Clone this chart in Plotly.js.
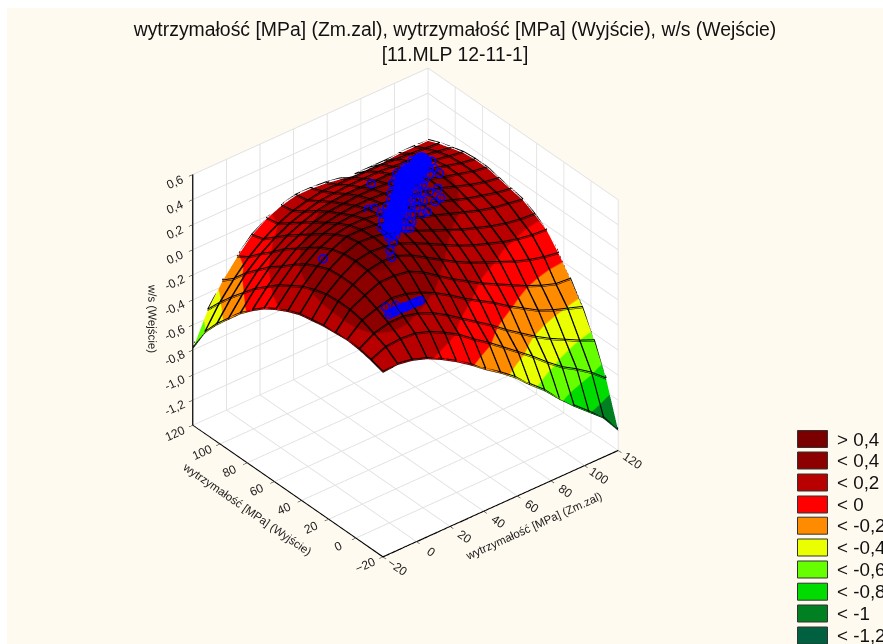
<!DOCTYPE html>
<html><head><meta charset="utf-8">
<script src="https://cdn.plot.ly/plotly-3.0.1.min.js"></script>
<style>html,body{margin:0;padding:0;background:#fff;overflow:hidden}#c{width:883px;height:644px}</style>
</head><body><div id="c"></div>
<script>
const gridX=[-20,-11.25,-2.5,6.25,15,23.75,32.5,41.25,50,58.75,67.5,76.25,85,93.75,102.5,111.25,120];
const gridY=[-20,-11.25,-2.5,6.25,15,23.75,32.5,41.25,50,58.75,67.5,76.25,85,93.75,102.5,111.25,120];
const surfaceZ=[
[.07,.08,.06,.02,-.04,-.11,-.19,-.28,-.36,-.45,-.56,-.66,-.78,-.89,-.99,-1.09,-1.24],
[.10,.15,.16,.15,.11,.05,-.02,-.11,-.19,-.28,-.37,-.46,-.56,-.65,-.72,-.80,-.90],
[.12,.19,.22,.22,.19,.14,.07,-.01,-.09,-.17,-.26,-.34,-.42,-.49,-.55,-.61,-.66],
[.13,.23,.27,.30,.28,.24,.18,.11,.03,-.04,-.11,-.19,-.26,-.33,-.38,-.42,-.46],
[.12,.25,.31,.36,.36,.34,.28,.20,.12,.05,-.02,-.08,-.14,-.20,-.25,-.29,-.30],
[.11,.25,.33,.39,.41,.40,.35,.28,.21,.14,.08,.03,-.02,-.07,-.11,-.14,-.16],
[.09,.24,.33,.40,.42,.41,.38,.33,.27,.21,.15,.10,.06,.02,-.01,-.03,-.04],
[.07,.21,.32,.39,.43,.42,.40,.36,.31,.26,.21,.16,.12,.08,.05,.03,.02],
[.03,.17,.28,.36,.41,.41,.40,.37,.34,.30,.26,.22,.18,.14,.11,.09,.07],
[-.02,.11,.23,.31,.36,.38,.38,.36,.34,.31,.28,.25,.21,.17,.14,.11,.09],
[-.08,.05,.16,.24,.30,.33,.34,.34,.33,.31,.29,.27,.24,.20,.16,.13,.11],
[-.16,-.03,.08,.17,.23,.27,.29,.30,.30,.29,.28,.27,.25,.21,.18,.15,.13],
[-.25,-.11,.01,.10,.16,.21,.24,.25,.26,.26,.25,.25,.23,.21,.18,.15,.13],
[-.36,-.21,-.08,.01,.09,.14,.18,.20,.21,.21,.21,.21,.20,.18,.16,.14,.12],
[-.47,-.31,-.17,-.07,.01,.07,.11,.14,.15,.16,.16,.16,.15,.14,.13,.11,.09],
[-.60,-.42,-.28,-.16,-.07,.00,.05,.08,.10,.10,.10,.10,.10,.09,.08,.07,.06],
[-.79,-.54,-.36,-.22,-.10,-.02,.03,.06,.06,.05,.03,.01,.01,.01,.02,.02,.02]];
const pointsX=[19,22,27,28,32,
30,33.5,37,40,32,35,38.5,
34,37.5,41,44,36,39.5,43,
37.4,40.9,44.3,47.8,39,42.6,46,
43,46,49.5,53,44.7,48,51,
48,51.7,55.2,58,50,53.5,57,
52,56,59.5,63,54,58,61,
57,60.6,64,67.5,59,62.4,66,
65,68,71.5,75,66.7,70,73,
69.7,73,76.6,81,71.4,75,78.4,
77,80,83.5,87,78.7,82,85,
83.7,87,90.6,85.4,88.8,
40.5,43.5,57,0,
70,74,62,59,87,73,78,66,
0,1,2,2,3,4,4,5,6,6,7,8,9,9,10,11,12,13,14,15,16,17,18,18.6,0,4.5];
const pointsY=[22,27,31,35,35,
43,40,37,34.5,41,38,35.5,
47,44,41,38,45,42,39,
52.4,49.3,46.2,43,50.8,47.7,44.6,
55,52,49,46,53.4,50.4,47.4,
58.5,55.4,52.3,49.9,57,53.9,51,
63,60,57,54,61.4,58.4,55.4,
68.3,65.2,62,59,66.7,63.6,60.5,
76,73,70,67,74.4,71.4,68.4,
80.9,77.8,74.7,70.7,79.3,76,72.7,
84,81,78,75,82.4,79.4,76.4,
87.2,84,81,85.6,82.4,
66,65,84,49,
53,54,49,49,71,61,61,57,
.5,1,.5,1,.5,1,.5,1,.5,1,.5,1,.5,1,.5,.5,.5,.5,.5,.5,.5,.5,.2,.2,3,1];
const pointsZ=[.44,.44,.44,.44,.44,
.45,.45,.45,.45,.45,.45,.45,
.45,.45,.45,.45,.45,.45,.45,
.45,.45,.45,.45,.45,.45,.45,
.45,.45,.45,.45,.45,.45,.45,
.45,.45,.45,.45,.45,.45,.45,
.45,.45,.45,.45,.45,.45,.45,
.45,.45,.45,.45,.45,.45,.45,
.38,.38,.38,.38,.38,.38,.38,
.36,.36,.36,.36,.36,.36,.36,
.34,.34,.34,.34,.34,.34,.34,
.33,.33,.33,.33,.33,
.36,.36,.33,.34,
.34,.34,.34,.34,.33,.34,.34,.34,
.26,.26,.26,.26,.26,.26,.26,.26,.26,.26,.26,.26,.26,.26,.26,.26,.26,.26,.26,.26,.26,.26,.26,.26,.30,.30];
const coreX=[32,36,40,44,48,52,56,60,62,66,68,72,74,77,79,82,84,86];
const coreY=[39,42,47,50,53,57,60,64,66,70,73,74,77,77,78,80,82,83];
const coreZ=[.455,.455,.455,.455,.455,.455,.455,.455,.455,.39,.39,.37,.37,.35,.35,.34,.34,.34];
const zTickVals=[-1.2,-1,-.8,-.6,-.4,-.2,0,.2,.4,.6];
const zTickText=['-1,2','-1,0','-0,8','-0,6','-0,4','-0,2','0,0','0,2','0,4','0,6'];
const xyTicks=[-20,0,20,40,60,80,100,120];
const legendLabels=['> 0,4','< 0,4','< 0,2','< 0','< -0,2','< -0,4','< -0,6','< -0,8','< -1','< -1,2'];
const legendColors=['#7a0000','#8c0000','#b80000','#ff0000','#ff8c00','#eaff00','#66ff00','#00dc00','#008020','#006040'];
const legendRowsPx=[439,460.5,482.5,504.5,525.7,547.5,569.5,591.7,613.5,635.5];
const bandEdges=[.6,.4,.2,0,-.2,-.4,-.6,-.8,-1,-1.2,-1.4];

const cs=[];
const zMin=-1.4,zMax=.6;
for(let k=legendColors.length-1;k>=0;k--){
  const c=legendColors[k];
  cs.push([(bandEdges[k+1]-zMin)/(zMax-zMin),c]);
  cs.push([(bandEdges[k]-zMin)/(zMax-zMin),c]);
}
cs[0][0]=0;cs[cs.length-1][0]=1;

const axisCommon={showbackground:true,backgroundcolor:'#ffffff',gridcolor:'#e0e0e0',gridwidth:2,
  zeroline:false,showline:true,linecolor:'#000',linewidth:2,ticks:'outside',ticklen:5,tickcolor:'#000',
  tickfont:{family:'Liberation Sans, Arial',size:12,color:'#222'},showspikes:false};
const titleFont={family:'Liberation Sans, Arial',size:11.5,color:'#222'};
const W=883,H=644;
const shapes=[{type:'rect',layer:'below',xref:'paper',yref:'paper',x0:7/W,x1:1,y0:0,y1:1-8/H,fillcolor:'#fffaf0',line:{width:0}}].concat(
 legendRowsPx.map((py,k)=>({type:'rect',xref:'paper',yref:'paper',
  x0:797.5/W,x1:827.5/W,y0:1-(py+8.5)/H,y1:1-(py-8.5)/H,fillcolor:legendColors[k],line:{color:'#333',width:1}})));
const annotations=legendRowsPx.map((py,k)=>({xref:'paper',yref:'paper',x:835/W,y:1-py/H,xanchor:'left',yanchor:'middle',
  text:legendLabels[k],showarrow:false,font:{family:'Liberation Sans, Arial',size:18.8,color:'#111'},align:'left'}));

const lift=.012, mx=[],my=[],mz=[];
gridY.forEach((yv,j)=>{gridX.forEach((xv,i)=>{mx.push(xv);my.push(yv);mz.push(surfaceZ[j][i]+lift);});mx.push(null);my.push(null);mz.push(null);});
gridX.forEach((xv,i)=>{gridY.forEach((yv,j)=>{mx.push(xv);my.push(yv);mz.push(surfaceZ[j][i]+lift);});mx.push(null);my.push(null);mz.push(null);});

const xRange=[-20,120],yRange=[-20,120],zRange=[-1.4,.6];
const axisLine=(x,y,z)=>({type:'scatter3d',mode:'lines',x,y,z,line:{color:'#000',width:2.5},hoverinfo:'skip'});

const data=[{type:'surface',x:gridX,y:gridY,z:surfaceZ,cmin:zMin,cmax:zMax,colorscale:cs,showscale:false,
  lighting:{ambient:1,diffuse:0,specular:0,fresnel:0,roughness:1},
  contours:{x:{show:true,start:-20,end:120,size:8.75,color:'#000',width:2,highlight:false},
            y:{show:true,start:-20,end:120,size:8.75,color:'#000',width:2,highlight:false},
            z:{show:false,highlight:false}},hoverinfo:'skip'},
 {type:'scatter3d',mode:'lines',x:mx,y:my,z:mz,connectgaps:false,line:{color:'#000',width:2},hoverinfo:'skip'},
 axisLine(xRange,[yRange[0],yRange[0]],[zRange[0],zRange[0]]),
 axisLine([xRange[0],xRange[0]],yRange,[zRange[0],zRange[0]]),
 axisLine([xRange[0],xRange[0]],[yRange[1],yRange[1]],zRange),
 {type:'scatter3d',mode:'markers',x:coreX,y:coreY,z:coreZ,marker:{symbol:'circle',size:11,color:'#0000ff',line:{width:0}},hoverinfo:'skip'},
 {type:'scatter3d',mode:'markers',x:pointsX,y:pointsY,z:pointsZ,
  error_z:{type:'constant',value:.03,color:'#0000ff',thickness:1,width:0},
  marker:{symbol:'circle-open',size:5,color:'#0000ff',line:{color:'#0000ff',width:2}},hoverinfo:'skip'}];
const layout={width:W,height:H,paper_bgcolor:'#ffffff',margin:{l:0,r:0,t:0,b:0},showlegend:false,
  title:{text:'wytrzymałość [MPa] (Zm.zal), wytrzymałość [MPa] (Wyjście), w/s (Wejście)<br>[11.MLP 12-11-1]',
    font:{family:'Liberation Sans, Arial',size:19.4,color:'#111'},x:455/W,xanchor:'center',y:1-36/H,yanchor:'top'},
  shapes,annotations,
  scene:{domain:{x:[0,.918],y:[.044,.984]},aspectmode:'manual',aspectratio:{x:1,y:1,z:1},
    camera:{projection:{type:'orthographic'},eye:{x:-1.35,y:-1.67,z:1.45},center:{x:0,y:0,z:0},up:{x:0,y:0,z:1}},
    xaxis:Object.assign({},axisCommon,{range:xRange,tickvals:xyTicks,title:{text:'wytrzymałość [MPa] (Zm.zal)',font:titleFont}}),
    yaxis:Object.assign({},axisCommon,{range:yRange,tickvals:xyTicks,title:{text:'wytrzymałość [MPa] (Wyjście)',font:titleFont}}),
    zaxis:Object.assign({},axisCommon,{range:zRange,tickvals:zTickVals,ticktext:zTickText,title:{text:'w/s (Wejście)',font:titleFont}})}};
Plotly.newPlot('c',data,layout,{displayModeBar:false});
</script></body></html>
